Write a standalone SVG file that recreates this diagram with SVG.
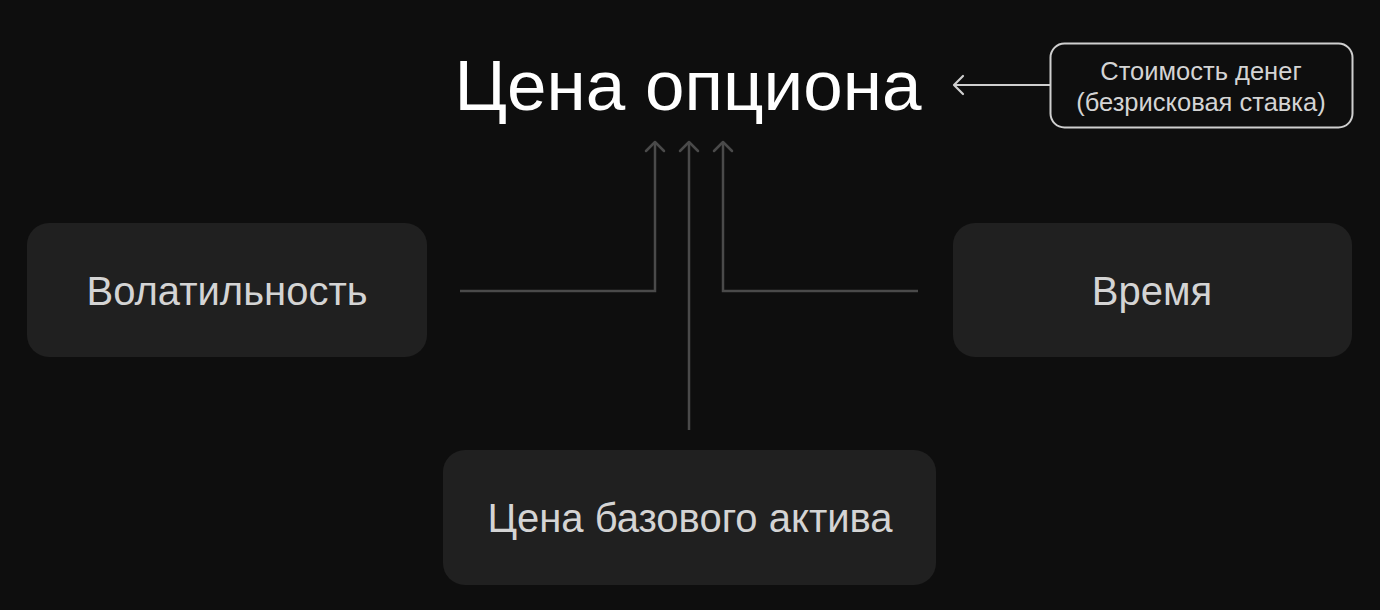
<svg xmlns="http://www.w3.org/2000/svg" width="1380" height="610" viewBox="0 0 1380 610">
<defs>
<style>
.node{fill:#202020}
.lbl{font-family:"Liberation Sans",Arial,sans-serif;font-size:40px;fill:#d4d4d4;text-anchor:middle}
.small{font-family:"Liberation Sans",Arial,sans-serif;font-size:25.5px;fill:#d4d4d4;text-anchor:middle}
.con{fill:none;stroke:#4a4a4a;stroke-width:2.5}
.head{fill:none;stroke:#4a4a4a;stroke-width:2.5;stroke-linecap:round;stroke-linejoin:round}
</style>
</defs>
<rect width="1380" height="610" fill="#0e0e0e"/>
<g id="title">
<text x="688" y="110" font-family="Liberation Sans, Arial, sans-serif" font-size="71" fill="#ffffff" text-anchor="middle">Цена опциона</text>
</g>
<g id="money">
<rect x="1050.5" y="43.5" width="302" height="84" rx="14" fill="#0e0e0e" stroke="#cfcfcf" stroke-width="2"/>
<text class="small" x="1201" y="80">Стоимость денег</text>
<text class="small" x="1201" y="111">(безрисковая ставка)</text>
</g>
<g id="volatility">
<rect class="node" x="27" y="223" width="400" height="134" rx="22"/>
<text class="lbl" x="227" y="305">Волатильность</text>
</g>
<g id="time">
<rect class="node" x="953" y="223" width="399" height="134" rx="22"/>
<text class="lbl" x="1152" y="305">Время</text>
</g>
<g id="underlying">
<rect class="node" x="443" y="450" width="493" height="135" rx="22"/>
<text class="lbl" x="690" y="532">Цена базового актива</text>
</g>
<g id="connectors">
<path class="con" d="M460 291 H655 V142"/>
<path class="con" d="M689 430 V142"/>
<path class="con" d="M918 291 H723 V142"/>
<path class="head" d="M646 151 L655 142 L664 151"/>
<path class="head" d="M680 151 L689 142 L698 151"/>
<path class="head" d="M714 151 L723 142 L732 151"/>
<path d="M1050 85 H954" fill="none" stroke="#cfcfcf" stroke-width="2"/>
<path d="M963 76 L954 85 L963 94" fill="none" stroke="#cfcfcf" stroke-width="2.2" stroke-linecap="round" stroke-linejoin="round"/>
</g>
</svg>
